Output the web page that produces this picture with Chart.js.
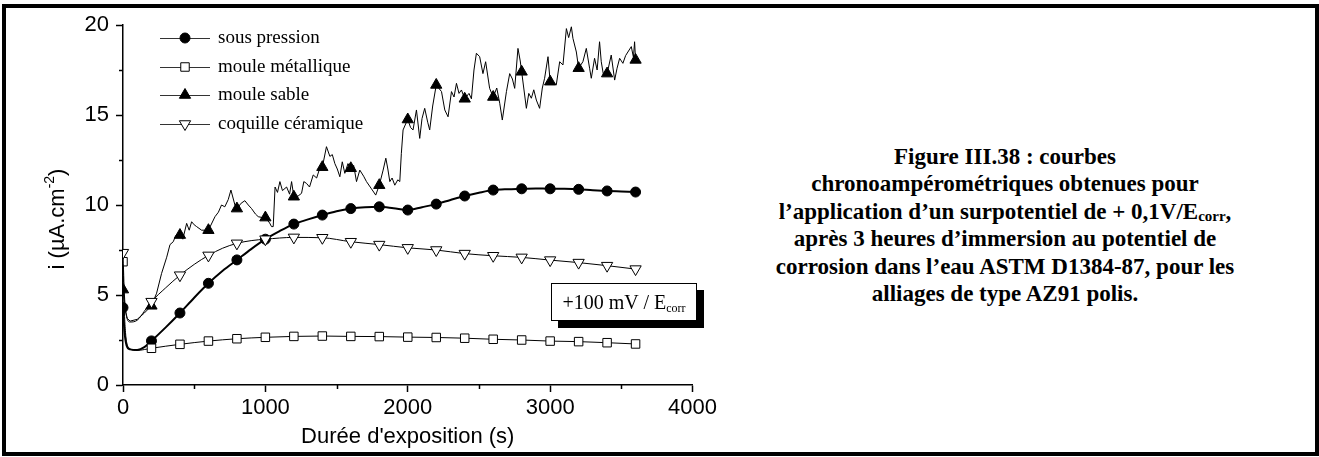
<!DOCTYPE html>
<html lang="fr">
<head>
<meta charset="UTF-8">
<title>Figure III.38</title>
<script src="https://cdn.jsdelivr.net/npm/chart.js"></script>
<style>
  body { margin: 0; background: #fff; }
  #wrap { position: relative; width: 1319px; height: 457px; overflow: hidden; }
  #frame { position: absolute; left: 2px; top: 4px; width: 1317px; height: 452px; border: 4px solid #000; box-sizing: border-box; pointer-events: none; }
  #chart { position: absolute; left: 0; top: 0; }
  #inset { position: absolute; left: 551px; top: 283px; width: 146px; height: 38px; box-sizing: border-box;
           border: 1px solid #000; background: #fff; box-shadow: 7px 7px 0 #000;
           font-family: 'Liberation Serif', serif; font-size: 20px; line-height: 36px; text-align: center; }
  #inset sub { font-size: 12px; vertical-align: -3px; }
  #caption { position: absolute; left: 720px; top: 143px; width: 570px; text-align: center;
             font-family: 'Liberation Serif', serif; font-weight: bold; font-size: 23px; line-height: 27.4px; }
  #caption sub { font-size: 15px; vertical-align: -2px; line-height: 0; }
</style>
</head>
<body>
<div id="wrap">
  <canvas id="chart" width="720" height="457"></canvas>
  <div id="inset">+100 mV / E<sub>corr</sub></div>
  <div id="caption">
    Figure III.38 : courbes<br>
    chronoampérométriques obtenues pour<br>
    l’application d’un surpotentiel de + 0,1V/E<sub>corr</sub>,<br>
    après 3 heures d’immersion au potentiel de<br>
    corrosion dans l’eau ASTM D1384-87, pour les<br>
    alliages de type AZ91 polis.
  </div>
  <div id="frame"></div>
</div>

<script>
// series names (legend order)
const seriesNames = ['sous pression', 'moule métallique', 'moule sable', 'coquille céramique'];

// sous pression
const tSous = [0, 10, 25, 50, 100, 150, 200, 300, 400, 500, 600, 700, 800, 900, 1000, 1100, 1200, 1300, 1400, 1500,
               1600, 1700, 1800, 1900, 2000, 2100, 2200, 2300, 2400, 2500, 2600, 2700, 2800, 2900, 3000, 3100, 3200,
               3300, 3400, 3500, 3600];
const iSous = [4.3, 3.0, 2.2, 1.98, 1.95, 2.1, 2.45, 3.2, 4.0, 4.85, 5.65, 6.35, 6.95, 7.55, 8.1, 8.55, 8.94, 9.2, 9.44, 9.65,
               9.8, 9.88, 9.9, 9.82, 9.72, 9.88, 10.05, 10.28, 10.5, 10.68, 10.83, 10.88, 10.9, 10.92, 10.9, 10.9, 10.87,
               10.82, 10.78, 10.75, 10.72];

// moule metallique
const tMetal = [0, 10, 25, 50, 100, 150, 200, 400, 600, 800, 1000, 1200, 1400, 1600, 1800, 2000, 2200, 2400, 2600,
                2800, 3000, 3200, 3400, 3600];
const iMetal = [6.85, 4.0, 2.4, 2.0, 1.92, 1.97, 2.04, 2.26, 2.44, 2.57, 2.65, 2.7, 2.72, 2.7, 2.69, 2.66, 2.64, 2.6, 2.54,
                2.5, 2.44, 2.41, 2.35, 2.28];

// moule sable (noisy)
const tSable = [0, 15, 30, 50, 100, 150, 200, 236, 271, 307, 330, 353, 370, 388, 400, 420, 447, 465, 482, 500,
                517, 552, 600, 646, 670, 692, 715, 739, 758, 786, 800, 830, 856, 880, 903, 930, 950, 980, 1000, 1030,
                1043, 1055, 1068, 1085, 1102, 1120, 1149, 1170, 1184, 1200, 1230, 1254, 1270, 1289, 1310, 1336, 1360, 1380, 1400, 1429,
                1453, 1470, 1488, 1505, 1523, 1540, 1558, 1580, 1600, 1620, 1640, 1663, 1690, 1710, 1745, 1775, 1800, 1827, 1846, 1860,
                1874, 1890, 1909, 1930, 1944, 1955, 1967, 1985, 2000, 2020, 2037, 2061, 2084, 2100, 2119, 2140, 2154, 2175, 2200, 2237,
                2260, 2283, 2307, 2325, 2342, 2360, 2377, 2400, 2430, 2447, 2465, 2482, 2505, 2528, 2547, 2575, 2600, 2625, 2646, 2664,
                2693, 2716, 2735, 2751, 2774, 2790, 2800, 2833, 2850, 2868, 2885, 2903, 2926, 2945, 2961, 2985, 3000, 3020, 3043, 3067,
                3090, 3114, 3130, 3149, 3160, 3184, 3200, 3230, 3254, 3277, 3289, 3312, 3330, 3347, 3359, 3375, 3400, 3429, 3453, 3470,
                3488, 3511, 3530, 3546, 3570, 3585, 3593, 3600];
const iSable = [5.3, 4.2, 3.7, 3.55, 3.65, 4.0, 4.4, 5.1, 6.2, 7.1, 7.8, 7.96, 8.3, 8.33, 8.33, 8.1, 8.98, 8.6, 9.07, 8.9,
                8.8, 8.6, 8.6, 9.35, 9.6, 10.0, 9.9, 10.3, 10.83, 10.0, 9.8, 10.1, 10.24, 10.0, 9.8, 9.5, 9.35, 9.3, 9.3, 9.0,
                8.8, 8.8, 11.0, 10.7, 11.3, 10.8, 11.0, 10.6, 11.3, 10.46, 10.5, 10.65, 11.3, 11.2, 11.0, 11.67, 11.5, 12.0, 12.1, 13.24,
                12.7, 12.8, 12.3, 12.0, 11.57, 12.4, 11.76, 12.3, 12.04, 12.2, 11.3, 11.94, 11.6, 11.3, 10.9, 10.55, 11.1, 11.94, 12.6, 12.0,
                11.3, 11.5, 11.1, 11.4, 11.3, 12.87, 14.17, 14.5, 14.75, 14.3, 14.17, 15.28, 13.7, 14.8, 15.37, 14.6, 14.17, 15.5, 16.67, 16.3,
                15.28, 14.9, 16.3, 16.0, 16.76, 16.2, 16.39, 15.9, 16.2, 15.9, 17.5, 18.43, 18.24, 17.3, 17.96, 16.48, 16.0, 16.5, 15.65, 14.72,
                16.3, 17.3, 17.0, 16.48, 18.7, 18.0, 17.4, 15.37, 16.2, 15.93, 16.4, 15.83, 15.37, 16.5, 17.04, 18.24, 16.85, 16.85, 16.67, 17.96,
                17.78, 19.8, 19.3, 19.9, 19.26, 18.5, 17.6, 17.96, 18.7, 17.6, 17.04, 18.15, 17.5, 19.07, 17.96, 17.2, 17.3, 18.33, 16.94, 17.6,
                18.15, 17.87, 18.3, 18.5, 18.8, 18.2, 19.07, 18.06];

// coquille ceramique
const tCeram = [0, 10, 25, 50, 100, 150, 200, 300, 400, 500, 600, 700, 800, 900, 1000, 1200, 1400, 1600, 1800, 2000,
                2200, 2400, 2600, 2800, 3000, 3200, 3400, 3600];
const iCeram = [7.35, 5.0, 3.8, 3.5, 3.6, 4.1, 4.63, 5.4, 6.1, 6.7, 7.2, 7.6, 7.87, 8.02, 8.1, 8.2, 8.18, 7.96, 7.8, 7.62,
                7.5, 7.3, 7.18, 7.09, 6.94, 6.8, 6.63, 6.44];

const xy = (ts, vs) => ts.map((t, k) => ({ x: t, y: vs[k] }));
const markEvery200 = r => c => (c.raw && c.raw.x % 200 === 0) ? r : 0;

const styles = [
  { pointStyle: 'circle',   radius: 5,   rotation: 0,   fill: '#000', width: 2 },
  { pointStyle: 'rect',     radius: 6,   rotation: 0,   fill: '#fff', width: 1 },
  { pointStyle: 'triangle', radius: 6.5, rotation: 0,   fill: '#000', width: 1 },
  { pointStyle: 'triangle', radius: 6.5, rotation: 180, fill: '#fff', width: 1 }
];
const seriesData = [xy(tSous, iSous), xy(tMetal, iMetal), xy(tSable, iSable), xy(tCeram, iCeram)];

const datasets = seriesData.map((d, k) => ({
  label: seriesNames[k],
  data: d,
  borderColor: '#000',
  borderWidth: styles[k].width,
  backgroundColor: styles[k].fill,
  pointStyle: styles[k].pointStyle,
  pointRotation: styles[k].rotation,
  pointRadius: markEvery200(styles[k].radius),
  pointBorderColor: '#000',
  pointBorderWidth: 1,
  pointBackgroundColor: styles[k].fill,
  cubicInterpolationMode: k === 2 ? 'default' : 'monotone',
  tension: 0,
  order: 4 - k
}));

// minor ticks, y title with superscript, legend inside the plot
const decor = {
  id: 'decor',
  afterDraw(chart) {
    const ctx = chart.ctx;
    const xs = chart.scales.x, ys = chart.scales.y;
    const a = chart.chartArea;
    ctx.save();
    ctx.strokeStyle = '#000';
    ctx.lineWidth = 1.5;
    ctx.beginPath();
    [2.5, 7.5, 12.5, 17.5].forEach(v => {
      const y = Math.round(ys.getPixelForValue(v)) + 0.5;
      ctx.moveTo(a.left - 4, y); ctx.lineTo(a.left, y);
    });
    [500, 1500, 2500, 3500].forEach(v => {
      const x = Math.round(xs.getPixelForValue(v)) + 0.5;
      ctx.moveTo(x, a.bottom); ctx.lineTo(x, a.bottom + 4);
    });
    ctx.stroke();

    // y title
    ctx.save();
    ctx.translate(58, 219);
    ctx.rotate(-Math.PI / 2);
    ctx.fillStyle = '#000';
    ctx.textBaseline = 'middle';
    const big = "22px 'Liberation Sans', Arial, sans-serif";
    const small = "14px 'Liberation Sans', Arial, sans-serif";
    const p1 = 'i (µA.cm', p2 = '-2', p3 = ')';
    ctx.font = big; const w1 = ctx.measureText(p1).width, w3 = ctx.measureText(p3).width;
    ctx.font = small; const w2 = ctx.measureText(p2).width;
    let x0 = -(w1 + w2 + w3) / 2;
    ctx.font = big; ctx.textAlign = 'left'; ctx.fillText(p1, x0, 0);
    ctx.font = small; ctx.fillText(p2, x0 + w1, -8);
    ctx.font = big; ctx.fillText(p3, x0 + w1 + w2, 0);
    ctx.restore();

    // legend
    const rows = [38, 67, 95, 124];
    ctx.font = "19px 'Liberation Serif', 'Times New Roman', serif";
    ctx.textBaseline = 'middle';
    ctx.textAlign = 'left';
    chart.data.datasets.forEach((ds, k) => {
      const y = rows[k];
      ctx.strokeStyle = '#333';
      ctx.lineWidth = 1;
      ctx.beginPath(); ctx.moveTo(160, y + 0.5); ctx.lineTo(210, y + 0.5); ctx.stroke();
      ctx.fillStyle = styles[k].fill;
      ctx.strokeStyle = '#000';
      Chart.helpers.drawPoint(ctx, {
        pointStyle: styles[k].pointStyle, rotation: styles[k].rotation,
        radius: styles[k].radius, borderWidth: 1
      }, 185, y);
      ctx.fillStyle = '#000';
      ctx.fillText(ds.label, 218, y);
    });
    ctx.restore();
  }
};

new Chart(document.getElementById('chart').getContext('2d'), {
  type: 'line',
  data: { datasets: datasets },
  plugins: [decor],
  options: {
    responsive: false,
    animation: false,
    events: [],
    layout: { padding: { top: 25, right: 27, left: 0, bottom: 0 } },
    plugins: { legend: { display: false }, tooltip: { enabled: false } },
    scales: {
      x: {
        type: 'linear', min: 0, max: 4000,
        afterFit: s => { s.height = 72; },
        ticks: { stepSize: 1000, color: '#000', padding: 3, maxRotation: 0,
                 callback: v => String(v),
                 font: { family: "'Liberation Sans', Arial, sans-serif", size: 22 } },
        grid: { drawOnChartArea: false, tickLength: 7, tickWidth: 1.5, tickColor: '#000' },
        border: { color: '#000', width: 1.5 },
        title: { display: true, text: "Durée d'exposition (s)", color: '#000', padding: { top: 0, bottom: 7 },
                 font: { family: "'Liberation Sans', Arial, sans-serif", size: 22 } }
      },
      y: {
        type: 'linear', min: 0, max: 20,
        afterFit: s => { s.width = 123; },
        ticks: { stepSize: 5, color: '#000', padding: 7,
                 callback: v => String(v),
                 font: { family: "'Liberation Sans', Arial, sans-serif", size: 22 } },
        grid: { drawOnChartArea: false, tickLength: 7, tickWidth: 1.5, tickColor: '#000' },
        border: { color: '#000', width: 1.5 }
      }
    }
  }
});
</script>
</body>
</html>
